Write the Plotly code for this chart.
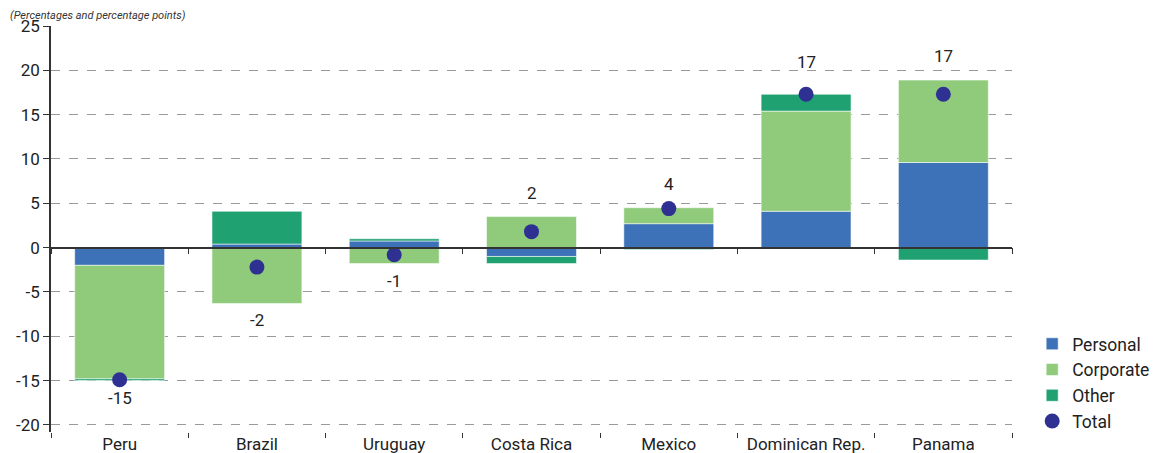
import plotly.graph_objects as go

categories = ["Peru", "Brazil", "Uruguay", "Costa Rica", "Mexico", "Dominican Rep.", "Panama"]
personal = [-2.0, 0.4, 0.75, -1.0, 2.7, 4.1, 9.6]
corporate = [-12.8, -6.3, -1.8, 3.5, 1.8, 11.3, 9.3]
other = [-0.2, 3.7, 0.25, -0.8, -0.2, 1.9, -1.4]
total = [-14.9, -2.2, -0.8, 1.8, 4.4, 17.3, 17.3]
y_ticks = [25, 20, 15, 10, 5, 0, -5, -10, -15, -20]

FONT = "Roboto, Liberation Sans, sans-serif"
YMIN, YMAX = -20.8, 25

fig = go.Figure()
bar_line = dict(width=1, color="rgba(255,255,255,0.55)")
fig.add_bar(x=categories, y=personal, name="Personal", marker=dict(color="#3D72B8", line=bar_line), width=0.655)
fig.add_bar(x=categories, y=corporate, name="Corporate", marker=dict(color="#8FCB7B", line=bar_line), width=0.655)
fig.add_bar(x=categories, y=other, name="Other", marker=dict(color="#1FA171", line=bar_line), width=0.655)
fig.add_scatter(x=categories, y=total, name="Total", mode="markers",
                marker=dict(color="#2E3192", size=15, line=dict(width=0)))

# invisible traces on helper x axes (zero-line ticks and bottom ticks)
fig.add_scatter(x=categories, y=[None] * len(categories), xaxis="x2", showlegend=False, hoverinfo="skip")
fig.add_scatter(x=categories, y=[None] * len(categories), xaxis="x3", showlegend=False, hoverinfo="skip")

annotations = []
for i, c in enumerate(categories):
    vals = [personal[i], corporate[i], other[i]]
    pos = sum(v for v in vals if v > 0)
    neg = sum(v for v in vals if v < 0)
    lab = str(int(round(total[i])))
    if total[i] >= 0:
        shift = 20 if total[i] >= pos - 0.1 and pos > 10 else 12
        annotations.append(dict(x=c, y=pos, text=lab, showarrow=False, yanchor="bottom", yshift=shift,
                                font=dict(size=17, color="#222", family=FONT)))
    else:
        annotations.append(dict(x=c, y=neg, text=lab, showarrow=False, yanchor="top", yshift=-5,
                                font=dict(size=17, color="#222", family=FONT)))

annotations.append(dict(xref="paper", yref="paper", x=0, y=1, xanchor="left", yanchor="middle",
                        xshift=-43, yshift=11, showarrow=False,
                        text="<i>(Percentages and percentage points)</i>",
                        font=dict(size=11, color="#333", family=FONT)))

zero_pos = (0 - YMIN) / (YMAX - YMIN)

common_cat = dict(type="category", overlaying="x", matches="x", anchor="free", side="bottom",
                  showticklabels=False, showgrid=False, zeroline=False,
                  ticks="outside", tickson="boundaries", tickcolor="#333", tickwidth=1.2)

fig.update_layout(
    width=1158, height=445,
    margin=dict(l=43, r=154, t=18, b=21, autoexpand=False),
    paper_bgcolor="white", plot_bgcolor="white",
    barmode="relative",
    font=dict(family=FONT, size=17, color="#222"),
    showlegend=True,
    legend=dict(x=1.021, y=-0.017, xanchor="left", yanchor="bottom",
                font=dict(size=17.5, family=FONT, color="#222"),
                itemwidth=30, tracegroupgap=0, bgcolor="rgba(0,0,0,0)"),
    annotations=annotations,
    xaxis=dict(
        type="category", showline=False, showgrid=False, zeroline=False,
        ticks="", tickfont=dict(size=17, family=FONT, color="#222"), tickangle=0, automargin=False,
        range=[-0.5, 6.5],
    ),
    xaxis2=dict(common_cat, position=zero_pos, showline=True, linecolor="#333", linewidth=1.5, ticklen=6),
    xaxis3=dict(common_cat, position=0, showline=False, ticklen=5),
    yaxis=dict(
        range=[YMIN, YMAX], tickvals=y_ticks, ticktext=[str(v) for v in y_ticks],
        showline=True, linecolor="#333", linewidth=1.5,
        ticks="outside", ticklen=6, tickcolor="#333", tickwidth=1.2,
        showgrid=True, gridcolor="#9a9a9a", gridwidth=1, griddash="dash",
        zeroline=False, automargin=False,
        tickfont=dict(size=17, family=FONT, color="#222"),
    ),
)

fig.write_html("out.html")
